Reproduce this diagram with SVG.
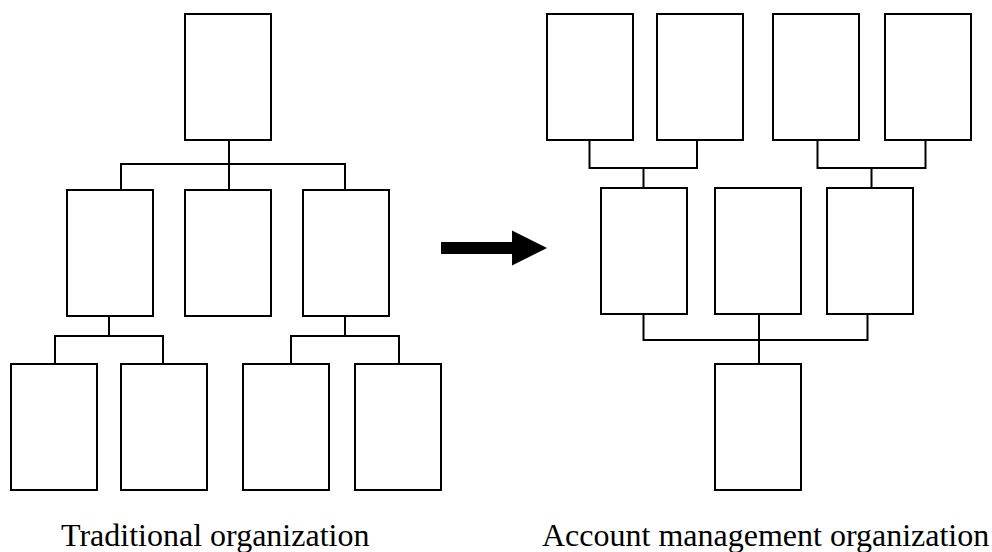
<svg xmlns="http://www.w3.org/2000/svg" width="992" height="552" viewBox="0 0 992 552">
  <style>
    .box { fill: #ffffff; stroke: #000000; stroke-width: 2; }
    .wire { fill: none; stroke: #000000; stroke-width: 2; }
    .caption { font-family: "Liberation Serif", "Times New Roman", serif; font-size: 32px; fill: #000000; }
  </style>
  <rect width="992" height="552" fill="#ffffff"/>

  <!-- Traditional organization: connectors -->
  <g id="connectors-traditional">
    <path class="wire" d="M229,140 V190 M121,190 V164 H345 V190"/>
    <path class="wire" d="M109,316 V336 M55,364 V336 H163 V364"/>
    <path class="wire" d="M345,316 V336 M291,364 V336 H399 V364"/>
  </g>

  <!-- Traditional organization: nodes -->
  <g id="trad-top"><rect class="box" x="185" y="14" width="86" height="126"/></g>
  <g id="trad-mid-1"><rect class="box" x="67" y="190" width="86" height="126"/></g>
  <g id="trad-mid-2"><rect class="box" x="185" y="190" width="86" height="126"/></g>
  <g id="trad-mid-3"><rect class="box" x="303" y="190" width="86" height="126"/></g>
  <g id="trad-bottom-1"><rect class="box" x="11" y="364" width="86" height="126"/></g>
  <g id="trad-bottom-2"><rect class="box" x="121" y="364" width="86" height="126"/></g>
  <g id="trad-bottom-3"><rect class="box" x="243" y="364" width="86" height="126"/></g>
  <g id="trad-bottom-4"><rect class="box" x="355" y="364" width="86" height="126"/></g>

  <!-- Transition arrow -->
  <g id="arrow">
    <polygon points="441,242 512,242 512,230.5 547,248 512,265.5 512,254 441,254" fill="#000000"/>
  </g>

  <!-- Account management organization: connectors -->
  <g id="connectors-account">
    <path class="wire" d="M589.5,140 V168 H697 V140 M643.5,168 V188"/>
    <path class="wire" d="M817.5,140 V168 H925.5 V140 M871.5,168 V188"/>
    <path class="wire" d="M643.5,314 V340 H867.5 V314 M759,314 V364"/>
  </g>

  <!-- Account management organization: nodes -->
  <g id="acct-top-1"><rect class="box" x="547" y="14" width="86" height="126"/></g>
  <g id="acct-top-2"><rect class="box" x="657" y="14" width="86" height="126"/></g>
  <g id="acct-top-3"><rect class="box" x="773" y="14" width="86" height="126"/></g>
  <g id="acct-top-4"><rect class="box" x="885" y="14" width="86" height="126"/></g>
  <g id="acct-mid-1"><rect class="box" x="601" y="188" width="86" height="126"/></g>
  <g id="acct-mid-2"><rect class="box" x="715" y="188" width="86" height="126"/></g>
  <g id="acct-mid-3"><rect class="box" x="827" y="188" width="86" height="126"/></g>
  <g id="acct-bottom"><rect class="box" x="715" y="364" width="86" height="126"/></g>

  <!-- Captions -->
  <text class="caption" x="61" y="546">Traditional organization</text>
  <text class="caption" x="542" y="546">Account management organization</text>
</svg>
